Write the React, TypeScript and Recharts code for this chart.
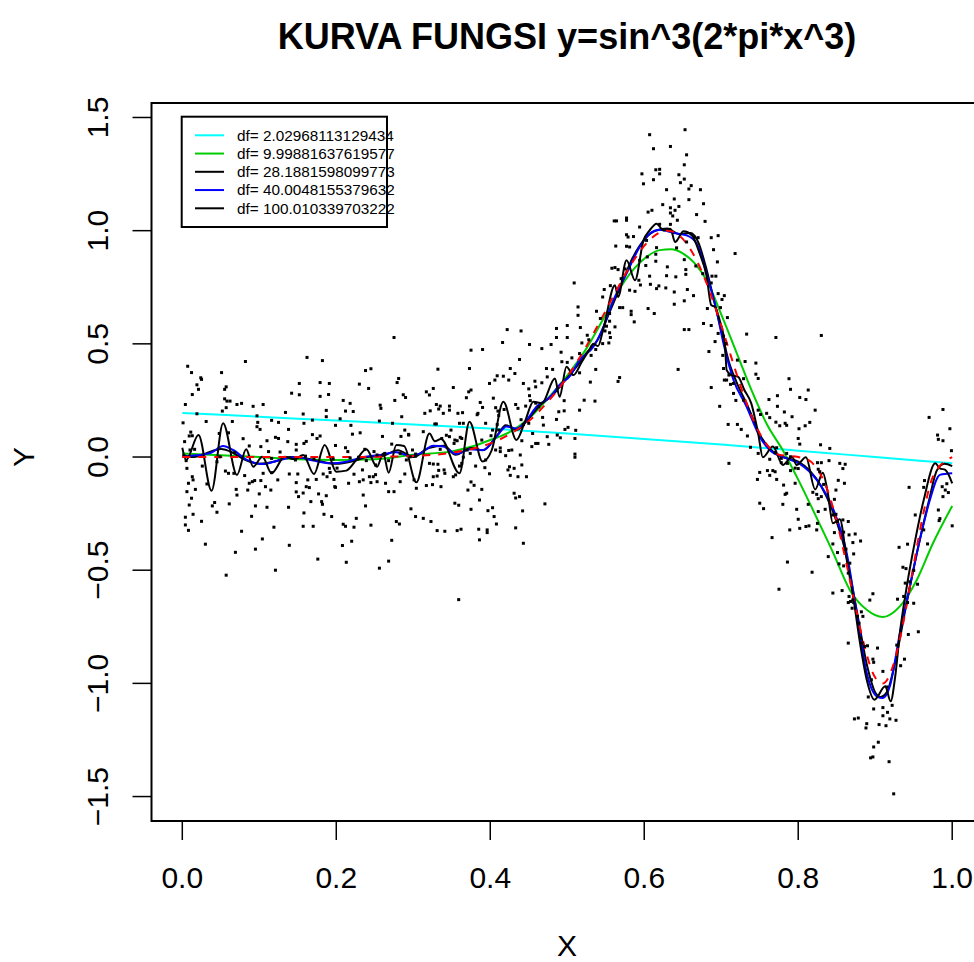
import { ComposedChart, XAxis, YAxis, Scatter, Line, ReferenceArea } from "recharts";

const FONT = "'Liberation Sans', Arial, Helvetica, sans-serif";

const xTicks = [0, 0.2, 0.4, 0.6, 0.8, 1.0];
const yTicks = [-1.5, -1, -0.5, 0, 0.5, 1, 1.5];
const xDomain = [-0.04, 1.04];
const yDomain = [-1.608, 1.564];

const title = "KURVA FUNGSI y=sin^3(2*pi*x^3)";
const xLabel = "X";
const yLabel = "Y";

const legendLabels = [
  "df= 2.02968113129434",
  "df= 9.99881637619577",
  "df= 28.1881598099773",
  "df= 40.0048155379632",
  "df= 100.010339703222",
];
const legendColors = ["#00FFFF", "#00CD00", "#000000", "#0000FF", "#000000"];

// scatter
const pointsLeft = [
  [0.275,0.528],[0.007,0.401],[0.082,0.422],[0.162,0.44],[0.182,0.426],[0.012,0.373],[0.051,0.373],[0.024,0.35],[0.025,0.343],[0.238,0.382],
  [0.245,0.39],[0.279,0.329],[0.281,0.347],[0.019,0.319],[0.021,0.299],[0.057,0.31],[0.055,0.299],[0.152,0.325],[0.179,0.329],[0.191,0.325],
  [0.23,0.322],[0.242,0.303],[0.287,0.275],[0.29,0.263],[0.013,0.276],[0.055,0.257],[0.058,0.247],[0.062,0.247],[0.071,0.232],[0.077,0.237],
  [0.092,0.224],[0.105,0.232],[0.142,0.282],[0.152,0.275],[0.179,0.268],[0.19,0.276],[0.209,0.25],[0.218,0.237],[0.257,0.229],[0.258,0.215],
  [0.276,0.25],[0.004,0.232],[0.052,0.203],[0.057,0.218],[0.097,0.182],[0.134,0.197],[0.187,0.206],[0.187,0.178],[0.212,0.203],[0.222,0.201],
  [0.001,0.151],[0.019,0.191],[0.031,0.157],[0.065,0.157],[0.098,0.153],[0.097,0.134],[0.101,0.122],[0.116,0.162],[0.125,0.153],[0.157,0.19],
  [0.158,0.149],[0.169,0.163],[0.199,0.14],[0.205,0.169],[0.219,0.14],[0.256,0.159],[0.273,0.149],[0.285,0.178],[0.289,0.119],[0.294,0.1],
  [0.011,0.11],[0.009,0.093],[0.013,0.094],[0.048,0.104],[0.06,0.107],[0.079,0.081],[0.087,0.049],[0.11,0.072],[0.112,0.024],[0.121,0.087],
  [0.125,0.082],[0.138,0.122],[0.137,0.068],[0.148,0.056],[0.148,0.031],[0.158,0.06],[0.161,0.069],[0.169,0.099],[0.175,0.082],[0.179,0.093],
  [0.199,0.051],[0.212,0.041],[0.215,0.024],[0.221,0.101],[0.231,0.107],[0.237,0.034],[0.249,0.024],[0.253,0.009],[0.26,0.091],[0.272,0.057],
  [0.284,0.091],[0.294,0.097],[0.299,0.031],[0.003,0.068],[0.01,0.031],[0.016,0.034],[0.005,-0.016],[0.006,-0.05],[0.026,-0.04],[0.045,-0.021],
  [0.049,0.001],[0.068,0.019],[0.102,0.046],[0.116,-0.006],[0.127,0.022],[0.147,-0.013],[0.16,0.004],[0.171,-0.01],[0.191,-0.05],[0.196,-0.009],
  [0.201,-0.049],[0.218,-0.004],[0.229,-0.001],[0.239,-0.016],[0.251,-0.035],[0.263,0.016],[0.268,-0.016],[0.283,0.016],[0.291,-0.013],[0.303,0.004],
  [0.013,-0.087],[0.014,-0.101],[0.032,-0.119],[0.056,-0.062],[0.06,-0.072],[0.067,-0.072],[0.081,-0.082],[0.087,-0.116],[0.094,-0.104],[0.102,-0.104],
  [0.105,-0.072],[0.116,-0.069],[0.124,-0.101],[0.139,-0.075],[0.148,-0.113],[0.15,-0.075],[0.161,-0.131],[0.163,-0.101],[0.174,-0.099],[0.183,-0.075],
  [0.188,-0.087],[0.192,-0.068],[0.197,-0.099],[0.199,-0.134],[0.216,-0.116],[0.223,-0.076],[0.23,-0.109],[0.234,-0.057],[0.235,-0.101],[0.243,-0.087],
  [0.245,-0.113],[0.248,-0.087],[0.251,-0.078],[0.253,-0.109],[0.264,-0.116],[0.268,-0.153],[0.275,-0.153],[0.283,-0.109],[0.289,-0.075],[0.304,-0.138],
  [0.008,-0.116],[0.006,-0.153],[0.017,-0.143],[0.009,-0.212],[0.012,-0.182],[0.014,-0.253],[0.042,-0.201],[0.045,-0.244],[0.039,-0.216],[0.07,-0.143],
  [0.071,-0.168],[0.085,-0.146],[0.091,-0.109],[0.1,-0.163],[0.108,-0.131],[0.115,-0.146],[0.138,-0.222],[0.148,-0.154],[0.151,-0.175],[0.157,-0.159],
  [0.165,-0.135],[0.167,-0.197],[0.177,-0.163],[0.181,-0.197],[0.182,-0.209],[0.184,-0.253],[0.187,-0.171],[0.194,-0.263],[0.198,-0.131],[0.226,-0.271],
  [0.235,-0.168],[0.238,-0.216],[0.245,-0.301],[0.278,-0.285],[0.282,-0.296],[0.297,-0.229],[0.303,-0.263],[0.004,-0.266],[0.004,-0.3],[0.008,-0.324],
  [0.025,-0.284],[0.061,-0.207],[0.077,-0.328],[0.09,-0.262],[0.095,-0.216],[0.11,-0.222],[0.119,-0.31],[0.158,-0.247],[0.157,-0.306],[0.17,-0.306],
  [0.209,-0.297],[0.212,-0.306],[0.223,-0.31],[0.03,-0.385],[0.069,-0.421],[0.095,-0.407],[0.104,-0.362],[0.139,-0.39],[0.208,-0.391],[0.22,-0.372],
  [0.272,-0.368],[0.057,-0.522],[0.121,-0.5],[0.176,-0.451],[0.213,-0.465],[0.256,-0.491],[0.268,-0.46],
];

const pointsRise = [
  [0.422,0.563],[0.44,0.557],[0.486,0.568],[0.5,0.581],[0.416,0.506],[0.486,0.528],[0.5,0.528],[0.375,0.472],[0.39,0.475],[0.451,0.497],
  [0.467,0.479],[0.479,0.497],[0.438,0.431],[0.332,0.388],[0.373,0.391],[0.426,0.391],[0.432,0.369],[0.492,0.463],[0.5,0.418],[0.473,0.391],
  [0.481,0.387],[0.409,0.359],[0.399,0.325],[0.406,0.34],[0.417,0.357],[0.424,0.34],[0.443,0.325],[0.45,0.301],[0.458,0.335],[0.459,0.31],
  [0.467,0.328],[0.474,0.354],[0.352,0.307],[0.317,0.288],[0.321,0.274],[0.326,0.303],[0.375,0.296],[0.372,0.288],[0.33,0.232],[0.335,0.225],
  [0.333,0.212],[0.322,0.204],[0.315,0.193],[0.33,0.146],[0.347,0.225],[0.347,0.207],[0.339,0.193],[0.358,0.193],[0.364,0.196],[0.369,0.262],
  [0.387,0.241],[0.39,0.219],[0.383,0.187],[0.365,0.149],[0.36,0.149],[0.349,0.119],[0.347,0.09],[0.354,0.075],[0.353,0.06],[0.357,0.072],
  [0.361,0.087],[0.363,0.082],[0.343,0.096],[0.337,0.082],[0.335,0.034],[0.328,0.146],[0.313,0.112],[0.321,-0.028],[0.326,-0.031],[0.332,-0.032],
  [0.333,-0.059],[0.34,-0.057],[0.326,-0.087],[0.331,-0.084],[0.341,-0.072],[0.352,-0.087],[0.365,-0.001],[0.363,-0.028],[0.355,-0.079],[0.374,0.016],
  [0.37,0.031],[0.394,0.149],[0.404,0.26],[0.407,0.218],[0.41,0.203],[0.411,0.184],[0.418,0.21],[0.409,0.143],[0.411,0.119],[0.403,0.119],
  [0.401,0.094],[0.413,0.04],[0.407,0.031],[0.413,0.024],[0.394,-0.013],[0.389,0.075],[0.384,0.193],[0.42,0.006],[0.428,0.031],[0.425,-0.043],
  [0.431,-0.05],[0.436,-0.087],[0.426,-0.081],[0.424,0.029],[0.439,0.009],[0.441,0.072],[0.443,0.143],[0.44,0.165],[0.446,0.225],[0.452,0.249],
  [0.451,0.271],[0.459,0.238],[0.463,0.222],[0.436,0.215],[0.433,0.232],[0.45,0.149],[0.455,0.104],[0.459,0.06],[0.462,0.06],[0.454,0.046],
  [0.468,0.175],[0.469,0.141],[0.474,0.09],[0.476,0.056],[0.487,0.097],[0.491,0.085],[0.486,0.166],[0.489,0.2],[0.496,0.249],[0.496,0.204],
  [0.497,0.122],[0.501,0.131],[0.296,0.001],[0.303,0.013],[0.301,-0.101],[0.317,-0.126],[0.325,-0.122],[0.336,-0.131],[0.36,-0.04],[0.371,-0.146],
  [0.379,-0.125],[0.389,-0.143],[0.375,-0.231],[0.386,-0.19],[0.354,-0.204],[0.359,-0.213],[0.397,-0.237],[0.405,-0.263],[0.313,-0.271],[0.323,-0.285],
  [0.331,-0.325],[0.341,-0.328],[0.357,-0.325],[0.362,-0.319],[0.385,-0.319],[0.396,-0.322],[0.396,-0.334],[0.386,-0.366],[0.408,-0.296],[0.433,-0.313],
  [0.443,-0.381],[0.438,-0.175],[0.431,-0.16],[0.433,-0.181],[0.442,-0.238],[0.447,-0.087],[0.441,-0.035],[0.471,-0.207],[0.403,-0.224],[0.375,-0.11],
  [0.393,-0.047],[0.381,-0.04],[0.399,-0.074],[0.423,-0.057],[0.359,-0.63],[0.511,0.118],[0.51,0.082],[0.51,0.013],[0.51,-0.001],
];

const pointsPeak = [
  [0.653,1.446],[0.607,1.424],[0.612,1.362],[0.634,1.372],[0.655,1.335],[0.652,1.291],[0.615,1.269],[0.62,1.271],[0.597,1.251],[0.62,1.251],
  [0.612,1.225],[0.645,1.247],[0.652,1.228],[0.599,1.207],[0.647,1.212],[0.661,1.199],[0.658,1.184],[0.673,1.181],[0.629,1.181],[0.658,1.137],
  [0.639,1.14],[0.624,1.115],[0.634,1.101],[0.645,1.107],[0.64,1.09],[0.677,1.119],[0.61,1.09],[0.605,1.082],[0.634,1.078],[0.637,1.065],
  [0.643,1.046],[0.668,1.071],[0.561,1.043],[0.564,1.043],[0.577,1.056],[0.577,1.046],[0.679,1.041],[0.594,1.016],[0.62,1.028],[0.634,1.028],
  [0.577,0.982],[0.579,0.972],[0.586,0.974],[0.603,0.957],[0.581,0.928],[0.577,0.931],[0.563,0.932],[0.655,0.95],[0.665,0.972],[0.67,0.969],
  [0.687,0.969],[0.696,0.978],[0.616,0.925],[0.615,0.896],[0.642,0.924],[0.652,0.872],[0.604,0.884],[0.594,0.869],[0.615,0.865],[0.63,0.84],
  [0.654,0.828],[0.667,0.844],[0.695,0.862],[0.69,0.916],[0.558,0.834],[0.562,0.837],[0.566,0.828],[0.575,0.831],[0.602,0.846],[0.607,0.799],
  [0.629,0.801],[0.641,0.796],[0.654,0.807],[0.676,0.81],[0.688,0.799],[0.693,0.799],[0.509,0.769],[0.57,0.788],[0.593,0.781],[0.595,0.76],
  [0.608,0.763],[0.619,0.756],[0.616,0.744],[0.628,0.747],[0.639,0.729],[0.556,0.757],[0.581,0.737],[0.588,0.732],[0.639,0.675],[0.548,0.74],
  [0.546,0.707],[0.538,0.644],[0.568,0.66],[0.572,0.66],[0.583,0.644],[0.583,0.629],[0.587,0.597],[0.605,0.656],[0.613,0.634],[0.555,0.634],
  [0.555,0.6],[0.543,0.612],[0.551,0.578],[0.562,0.575],[0.549,0.557],[0.555,0.549],[0.556,0.528],[0.554,0.504],[0.546,0.501],[0.537,0.475],
  [0.531,0.449],[0.537,0.387],[0.53,0.331],[0.514,0.663],[0.514,0.626],[0.517,0.572],[0.526,0.538],[0.528,0.518],[0.519,0.504],[0.516,0.457],
  [0.506,0.438],[0.493,0.421],[0.516,0.372],[0.522,0.251],[0.516,0.207],[0.536,0.247],[0.568,0.351],[0.566,0.334],[0.644,0.387],[0.718,0.899],
];

const pointsFall = [
  [0.656,0.74],[0.664,0.713],[0.652,0.69],[0.687,0.769],[0.696,0.722],[0.704,0.713],[0.701,0.696],[0.682,0.656],[0.699,0.66],[0.708,0.616],
  [0.677,0.59],[0.687,0.581],[0.652,0.563],[0.658,0.563],[0.696,0.546],[0.703,0.534],[0.692,0.51],[0.706,0.501],[0.733,0.543],[0.771,0.528],
  [0.83,0.537],[0.684,0.466],[0.702,0.449],[0.731,0.422],[0.721,0.428],[0.745,0.415],[0.745,0.366],[0.748,0.347],[0.703,0.391],[0.71,0.362],
  [0.707,0.34],[0.704,0.34],[0.729,0.346],[0.716,0.325],[0.712,0.321],[0.687,0.307],[0.716,0.281],[0.719,0.25],[0.698,0.224],[0.729,0.251],
  [0.788,0.346],[0.79,0.299],[0.813,0.296],[0.802,0.263],[0.81,0.254],[0.762,0.254],[0.773,0.271],[0.773,0.224],[0.748,0.207],[0.751,0.188],
  [0.759,0.193],[0.782,0.199],[0.792,0.178],[0.763,0.174],[0.771,0.154],[0.776,0.138],[0.783,0.149],[0.785,0.14],[0.709,0.144],[0.721,0.144],
  [0.726,0.122],[0.734,0.093],[0.801,0.125],[0.809,0.138],[0.815,0.153],[0.822,0.207],[0.8,0.082],[0.802,0.057],[0.829,0.054],[0.841,0.038],
  [0.738,0.043],[0.748,0.016],[0.71,-0.028],[0.772,0.041],[0.77,0.019],[0.763,-0.01],[0.785,0.016],[0.79,0.001],[0.778,-0.006],[0.778,-0.025],
  [0.786,-0.028],[0.75,-0.068],[0.76,-0.06],[0.767,-0.06],[0.77,-0.065],[0.747,-0.099],[0.763,-0.081],[0.772,-0.099],[0.79,-0.06],[0.796,-0.049],
  [0.8,-0.051],[0.796,-0.116],[0.781,-0.124],[0.785,-0.16],[0.783,-0.165],[0.75,-0.204],[0.755,-0.228],[0.78,-0.209],[0.798,-0.231],[0.8,-0.275],
  [0.789,-0.322],[0.802,-0.315],[0.81,-0.307],[0.814,-0.304],[0.825,-0.293],[0.824,-0.322],[0.766,-0.356],[0.813,-0.209],[0.824,-0.165],[0.826,-0.184],
  [0.83,-0.175],[0.833,-0.121],[0.819,-0.156],[0.828,-0.065],[0.825,-0.025],[0.83,-0.025],[0.84,-0.016],[0.835,-0.231],[0.826,-0.241],[0.839,-0.44],
  [0.826,-0.054],[0.786,-0.464],[0.775,-0.584],
];

const pointsTrough = [
  [0.97,0.175],[0.988,0.21],[0.981,0.097],[0.982,0.078],[0.988,0.072],[0.997,0.125],[0.999,0.028],[0.854,-0.028],[0.861,-0.032],[0.858,-0.051],
  [0.852,-0.103],[0.86,-0.116],[0.849,-0.146],[0.847,-0.187],[0.845,-0.256],[0.849,-0.253],[0.851,-0.285],[0.858,-0.278],[0.865,-0.285],[0.847,-0.334],
  [0.859,-0.332],[0.866,-0.344],[0.871,-0.378],[0.874,-0.34],[0.881,-0.371],[0.845,-0.384],[0.851,-0.422],[0.872,-0.428],[0.862,-0.407],[0.853,-0.472],
  [0.859,-0.481],[0.867,-0.469],[0.865,-0.513],[0.845,-0.601],[0.857,-0.59],[0.866,-0.616],[0.865,-0.643],[0.868,-0.638],[0.871,-0.631],[0.872,-0.643],
  [0.87,-0.668],[0.897,-0.604],[0.893,-0.632],[0.931,-0.399],[0.942,-0.385],[0.936,-0.487],[0.94,-0.493],[0.95,-0.501],[0.952,-0.256],[0.964,-0.104],
  [0.963,-0.134],[0.968,-0.384],[0.963,-0.322],[0.982,-0.234],[0.984,-0.272],[0.983,-0.281],[0.993,-0.118],[0.991,-0.146],[1.0,-0.304],[0.995,-0.157],
  [0.987,-0.131],[0.988,-0.175],[0.944,-0.134],[0.939,-0.557],[0.945,-0.551],[0.955,-0.562],[0.937,-0.616],[0.942,-0.643],[0.95,-0.646],[0.929,-0.628],
  [0.956,-0.772],[0.943,-0.784],[0.938,-0.893],[0.933,-0.922],[0.928,-0.831],[0.882,-0.684],[0.884,-0.704],[0.877,-0.704],[0.879,-0.734],[0.881,-0.8],
  [0.883,-0.822],[0.886,-0.837],[0.89,-0.834],[0.865,-0.822],[0.903,-0.844],[0.897,-0.893],[0.898,-0.907],[0.895,-0.984],[0.91,-0.947],[0.915,-1.016],
  [0.891,-1.06],[0.898,-1.113],[0.91,-1.107],[0.916,-1.128],[0.922,-1.097],[0.927,-1.163],[0.91,-1.143],[0.905,-1.182],[0.919,-1.157],[0.873,-1.157],
  [0.878,-1.153],[0.888,-1.197],[0.889,-1.178],[0.914,-1.187],[0.904,-1.26],[0.898,-1.281],[0.894,-1.329],[0.897,-1.325],[0.918,-1.346],[0.924,-1.488],
  [0.818,-0.509],
];

// fitted curves and the true function
const trueCurve = [
  [0,0],[0.1,0],[0.2,0],[0.25,0.001],[0.3,0.005],[0.35,0.019],[0.4,0.06],[0.425,0.1],[0.45,0.159],[0.475,0.245],[0.5,0.354],
  [0.525,0.491],[0.55,0.647],[0.5625,0.727],[0.575,0.805],[0.5875,0.875],[0.6,0.933],[0.625,0.998],[0.63,1.0],[0.65,0.964],[0.6625,0.904],
  [0.675,0.818],[0.6875,0.708],[0.7,0.581],[0.7125,0.447],[0.725,0.314],[0.7375,0.198],[0.75,0.104],[0.7625,0.042],[0.775,0.01],[0.8,0],
  [0.8125,-0.012],[0.825,-0.054],[0.8375,-0.142],[0.85,-0.284],[0.8625,-0.469],[0.875,-0.672],[0.8875,-0.855],[0.9,-0.974],[0.91,-1.0],
  [0.925,-0.902],[0.9375,-0.714],[0.95,-0.476],[0.9625,-0.25],[0.975,-0.087],[1.0,0],
];

const fitDf2 = [
  [0,0.195],[0.1,0.178],[0.2,0.161],[0.3,0.144],[0.4,0.126],[0.5,0.104],[0.6,0.08],[0.7,0.055],[0.8,0.028],[0.9,0.0],[1.0,-0.028],
];

const fitDf10 = [
  [0,0.016],[0.05,0.008],[0.1,0.0],[0.15,-0.01],[0.2,-0.013],[0.25,-0.01],[0.3,0.01],[0.35,0.025],[0.375,0.045],[0.4,0.075],
  [0.425,0.11],[0.45,0.17],[0.475,0.26],[0.5,0.36],[0.525,0.48],[0.55,0.63],[0.575,0.78],[0.6,0.876],[0.62,0.914],[0.635,0.918],
  [0.65,0.9],[0.666,0.854],[0.682,0.774],[0.7,0.63],[0.72,0.46],[0.74,0.29],[0.76,0.14],[0.78,0.03],[0.8,-0.1],[0.82,-0.24],
  [0.845,-0.42],[0.867,-0.587],[0.889,-0.675],[0.91,-0.707],[0.932,-0.66],[0.954,-0.543],[0.975,-0.381],[1.0,-0.216],
];

const fitDf28 = [
  [0,0.01],[0.015,0.0],[0.03,0.015],[0.05,0.035],[0.065,0.02],[0.08,-0.01],[0.1,-0.03],[0.12,-0.02],[0.14,0.0],[0.16,-0.005],
  [0.18,-0.02],[0.2,-0.03],[0.22,-0.02],[0.24,0.0],[0.26,0.005],[0.28,0.03],[0.3,0.0],[0.32,0.04],[0.34,0.05],[0.355,0.01],
  [0.375,0.04],[0.39,0.03],[0.41,0.1],[0.42,0.14],[0.435,0.12],[0.45,0.17],[0.465,0.23],[0.48,0.27],[0.495,0.33],[0.51,0.39],
  [0.525,0.46],[0.54,0.52],[0.555,0.64],[0.57,0.76],[0.585,0.88],[0.6,0.96],[0.615,1.0],[0.63,1.01],[0.645,0.985],[0.66,0.99],
  [0.67,0.95],[0.68,0.84],[0.69,0.7],[0.7,0.56],[0.71,0.42],[0.72,0.33],[0.735,0.22],[0.75,0.1],[0.765,0.03],[0.78,0.0],
  [0.8,-0.02],[0.815,-0.06],[0.83,-0.13],[0.845,-0.24],[0.86,-0.4],[0.875,-0.66],[0.89,-0.93],[0.9,-1.04],[0.907,-1.06],[0.915,-1.04],
  [0.925,-0.92],[0.94,-0.66],[0.955,-0.41],[0.97,-0.19],[0.98,-0.06],[0.99,-0.03],[1.0,-0.04],
];

const fitDf40 = [
  [0,0.0],[0.012,0.006],[0.023,0.009],[0.038,0.02],[0.053,0.049],[0.066,0.031],[0.084,-0.013],[0.105,-0.031],[0.127,-0.013],[0.148,0.0],
  [0.17,-0.016],[0.192,-0.028],[0.213,-0.021],[0.235,0.0],[0.257,0.009],[0.278,0.021],[0.296,0.005],[0.309,0.016],[0.326,0.05],[0.339,0.046],
  [0.356,0.013],[0.374,0.034],[0.391,0.031],[0.408,0.09],[0.421,0.135],[0.434,0.126],[0.447,0.163],[0.46,0.222],[0.478,0.266],[0.49,0.318],
  [0.504,0.36],[0.516,0.428],[0.534,0.487],[0.547,0.575],[0.56,0.693],[0.577,0.81],[0.594,0.928],[0.607,0.987],[0.62,1.004],[0.638,0.99],
  [0.655,0.979],[0.668,0.943],[0.681,0.81],[0.694,0.645],[0.703,0.5],[0.716,0.34],[0.733,0.222],[0.75,0.09],[0.763,0.031],[0.785,-0.006],
  [0.802,-0.03],[0.824,-0.101],[0.846,-0.234],[0.863,-0.425],[0.876,-0.69],[0.889,-0.954],[0.902,-1.057],[0.91,-1.065],[0.919,-1.013],[0.932,-0.778],
  [0.945,-0.572],[0.958,-0.366],[0.971,-0.19],[0.984,-0.079],[1.0,-0.072],
];

const fitDf100 = [
  [0,0.041],[0.005,-0.013],[0.021,0.097],[0.038,-0.149],[0.053,0.149],[0.071,-0.079],[0.083,0.034],[0.092,-0.043],[0.104,0.001],[0.116,-0.072],
  [0.133,0.001],[0.146,-0.01],[0.157,0.009],[0.171,-0.075],[0.185,0.053],[0.2,-0.065],[0.213,-0.06],[0.226,-0.013],[0.239,0.034],[0.253,-0.043],
  [0.261,0.016],[0.268,-0.069],[0.278,0.053],[0.288,0.049],[0.304,-0.112],[0.321,0.104],[0.328,0.07],[0.336,0.08],[0.36,-0.072],[0.373,0.156],
  [0.39,-0.02],[0.402,0.031],[0.417,0.244],[0.434,0.075],[0.445,0.156],[0.456,0.244],[0.467,0.237],[0.484,0.347],[0.49,0.266],[0.499,0.399],
  [0.508,0.362],[0.519,0.421],[0.528,0.47],[0.534,0.5],[0.54,0.49],[0.547,0.568],[0.562,0.759],[0.566,0.707],[0.577,0.869],[0.588,0.781],
  [0.599,0.957],[0.607,1.001],[0.616,1.031],[0.625,1.001],[0.634,1.009],[0.64,0.95],[0.651,0.997],[0.662,0.979],[0.672,0.899],[0.681,0.8],
  [0.687,0.671],[0.692,0.663],[0.698,0.604],[0.705,0.487],[0.707,0.384],[0.713,0.362],[0.722,0.354],[0.73,0.296],[0.739,0.237],[0.748,0.104],
  [0.754,-0.001],[0.767,0.046],[0.78,-0.035],[0.792,0.001],[0.798,-0.035],[0.81,-0.001],[0.822,-0.143],[0.832,-0.069],[0.838,-0.15],[0.845,-0.293],
  [0.854,-0.275],[0.863,-0.454],[0.872,-0.631],[0.881,-0.837],[0.889,-0.984],[0.899,-1.072],[0.913,-1.013],[0.92,-1.079],[0.926,-0.969],[0.932,-0.778],
  [0.941,-0.572],[0.952,-0.366],[0.963,-0.19],[0.978,-0.028],[0.984,-0.05],[0.991,-0.057],[1.0,-0.116],
];

const toRows = (pairs: number[][]) => pairs.map(([x, y]) => ({ x, y }));
const scatterRows = toRows([...pointsLeft, ...pointsRise, ...pointsPeak, ...pointsFall, ...pointsTrough]);

const fmt = (v: number) => v.toFixed(1).replace("-", "\u2212");

const PointMark = ({ cx, cy }: any) => (
  <rect x={cx - 1.5} y={cy - 1.5} width={3} height={3} fill="#000" />
);

const XTick = ({ x, y, payload }: any) => (
  <text x={x} y={y} textAnchor="middle" fontSize={30} fontFamily={FONT} fill="#000">
    {fmt(payload.value)}
  </text>
);

const YTick = ({ x, y, payload }: any) => (
  <text
    x={x}
    y={y}
    textAnchor="middle"
    transform={`rotate(-90 ${x} ${y})`}
    fontSize={30}
    fontFamily={FONT}
    fill="#000"
  >
    {fmt(payload.value)}
  </text>
);

const curves = [
  { name: "df2", rows: toRows(fitDf2), color: legendColors[0] },
  { name: "df10", rows: toRows(fitDf10), color: legendColors[1] },
  { name: "df28", rows: toRows(fitDf28), color: legendColors[2] },
  { name: "df40", rows: toRows(fitDf40), color: legendColors[3] },
  { name: "df100", rows: toRows(fitDf100), color: legendColors[4] },
];

export default function App() {
  return (
    <div
      style={{
        position: "fixed",
        left: 0,
        top: 0,
        width: 974,
        height: 962,
        overflow: "hidden",
        background: "#fff",
      }}
    >
      <ComposedChart
        width={1000}
        height={962}
        margin={{ top: 103, right: 17, bottom: 140, left: 150.5 }}
      >
        <XAxis
          dataKey="x"
          type="number"
          domain={xDomain}
          ticks={xTicks}
          interval={0}
          allowDataOverflow
          height={1}
          axisLine={false}
          tickLine={{ stroke: "#000", strokeWidth: 1.5 }}
          tickSize={19}
          tickMargin={48}
          tick={<XTick />}
        />
        <YAxis
          dataKey="y"
          type="number"
          domain={yDomain}
          ticks={yTicks}
          interval={0}
          allowDataOverflow
          width={1}
          axisLine={false}
          tickLine={{ stroke: "#000", strokeWidth: 1.5 }}
          tickSize={19}
          tickMargin={24.5}
          tick={<YTick />}
        />
        <ReferenceArea
          x1={xDomain[0]}
          x2={xDomain[1]}
          y1={yDomain[0]}
          y2={yDomain[1]}
          fill="none"
          fillOpacity={0}
          stroke="#000"
          strokeWidth={2}
          ifOverflow="visible"
        />
        <Scatter data={scatterRows} shape={<PointMark />} isAnimationActive={false} />
        {curves.map((c) => (
          <Line
            key={c.name}
            data={c.rows}
            dataKey="y"
            type="monotone"
            stroke={c.color}
            strokeWidth={2}
            dot={false}
            activeDot={false}
            isAnimationActive={false}
          />
        ))}
        <Line
          data={toRows(trueCurve)}
          dataKey="y"
          type="monotone"
          stroke="#FF0000"
          strokeWidth={2}
          strokeDasharray="8 8"
          dot={false}
          activeDot={false}
          isAnimationActive={false}
        />
      </ComposedChart>
      <svg
        width={974}
        height={962}
        style={{ position: "absolute", left: 0, top: 0, pointerEvents: "none" }}
      >
        <text x={567} y={49} textAnchor="middle" fontSize={36} fontWeight="bold" fontFamily={FONT}>
          {title}
        </text>
        <text x={567} y={956} textAnchor="middle" fontSize={30} fontFamily={FONT}>
          {xLabel}
        </text>
        <text
          x={34}
          y={457}
          textAnchor="middle"
          transform="rotate(-90 34 457)"
          fontSize={30}
          fontFamily={FONT}
        >
          {yLabel}
        </text>
        <rect x={181.7} y={116.7} width={205.3} height={110.3} fill="#fff" stroke="#000" strokeWidth={2} />
        {legendLabels.map((label, i) => (
          <g key={label}>
            <line
              x1={195}
              x2={224}
              y1={135.3 + i * 18.25}
              y2={135.3 + i * 18.25}
              stroke={legendColors[i]}
              strokeWidth={2}
            />
            <text x={237} y={135.3 + i * 18.25 + 5.4} fontSize={15.3} fontFamily={FONT}>
              {label}
            </text>
          </g>
        ))}
      </svg>
    </div>
  );
}
